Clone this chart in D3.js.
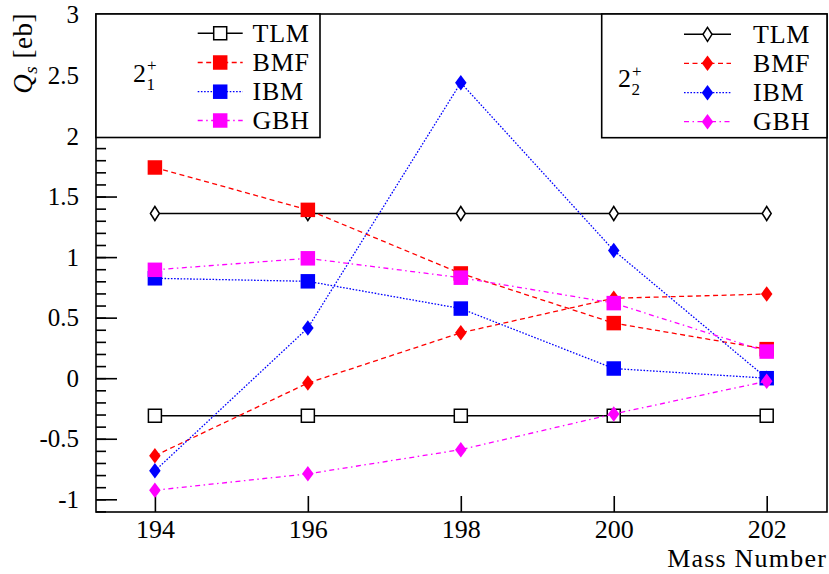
<!DOCTYPE html>
<html>
<head>
<meta charset="utf-8">
<script src="https://cdn.jsdelivr.net/npm/d3@7"></script>
<style>
  body { margin: 0; background: #fff; }
  svg { display: block; }
  .serif { font-family: 'Liberation Serif', 'Times New Roman', serif; }
</style>
</head>
<body>
<svg id="chart" width="829" height="574"></svg>
<script>
// Mass numbers of the isotopes on the x axis
const massNumbers = [194, 196, 198, 200, 202];
const xTickValues = [194, 196, 198, 200, 202];
const yTickValues = [-1, -0.5, 0, 0.5, 1, 1.5, 2, 2.5, 3];
const seriesNames = ["TLM", "BMF", "IBM", "GBH"];

// Spectroscopic quadrupole moments Q_s [eb], first 2+ state
const tlmFirst = [-0.31, -0.31, -0.31, -0.31, -0.31];
const bmfFirst = [1.74, 1.39, 0.865, 0.455, 0.24];
const ibmFirst = [0.825, 0.80, 0.575, 0.08, 0.0];
const gbhFirst = [0.895, 0.99, 0.83, 0.62, 0.22];

// Spectroscopic quadrupole moments Q_s [eb], second 2+ state
const tlmSecond = [1.36, 1.36, 1.36, 1.36, 1.36];
const bmfSecond = [-0.64, -0.04, 0.375, 0.66, 0.695];
const ibmSecond = [-0.765, 0.415, 2.44, 1.055, 0.0];
const gbhSecond = [-0.925, -0.79, -0.59, -0.295, -0.025];

const seriesColors = ["#000000", "#ff0000", "#0000ff", "#ff00ff"];
const seriesDashes = [null, "5,3.5", "1.6,1.6", "5,3.5,1.5,3.5"];

const svg = d3.select("#chart");

// Plot frame
const frame = { left: 96, right: 827, top: 14, bottom: 512 };

const x = d3.scaleLinear().domain([194, 202]).range([154.9, 766.7]);
const y = d3.scaleLinear().domain([-1, 3]).range([499.3, 14.9]);

// Axes: ticks point inward, as in a ROOT-style frame
const yMinor = d3.range(-11, 31).map(d => d / 10);
svg.append("g")
  .attr("transform", `translate(${frame.left},0)`)
  .call(d3.axisLeft(y).tickValues(yMinor).tickSizeInner(-10).tickSizeOuter(0).tickFormat(""))
  .call(g => g.select(".domain").remove())
  .call(g => g.selectAll("line").attr("stroke", "#000").attr("stroke-width", 1.6));

svg.append("g")
  .attr("transform", `translate(${frame.left},0)`)
  .call(d3.axisLeft(y).tickValues(yTickValues).tickSizeInner(-21).tickSizeOuter(0).tickPadding(17)
    .tickFormat(d => String(d)))
  .attr("font-family", null).attr("font-size", 25)
  .call(g => g.select(".domain").remove())
  .call(g => g.selectAll("line").attr("stroke", "#000").attr("stroke-width", 1.6))
  .call(g => g.selectAll("text").attr("class", "serif").attr("fill", "#000"));

svg.append("g")
  .attr("transform", `translate(0,${frame.bottom})`)
  .call(d3.axisBottom(x).tickValues(xTickValues).tickSizeInner(-16).tickSizeOuter(0).tickPadding(8)
    .tickFormat(d => String(d)))
  .attr("font-family", null).attr("font-size", 26)
  .call(g => g.select(".domain").remove())
  .call(g => g.selectAll("line").attr("stroke", "#000").attr("stroke-width", 1.6))
  .call(g => g.selectAll("text").attr("class", "serif").attr("fill", "#000"));

svg.append("rect")
  .attr("x", frame.left).attr("y", frame.top)
  .attr("width", frame.right - frame.left).attr("height", frame.bottom - frame.top)
  .attr("fill", "none").attr("stroke", "#000").attr("stroke-width", 1.6);

// Axis titles
svg.append("text")
  .attr("class", "serif")
  .attr("x", 827).attr("y", 567)
  .attr("text-anchor", "end").attr("font-size", 26).attr("letter-spacing", 1.2)
  .text("Mass Number");

const yTitle = svg.append("text")
  .attr("class", "serif")
  .attr("transform", "translate(32,13) rotate(-90)")
  .attr("text-anchor", "end").attr("font-size", 27).attr("letter-spacing", 0.5);
yTitle.append("tspan").attr("font-style", "italic").text("Q");
yTitle.append("tspan").attr("font-style", "italic").attr("font-size", 19).attr("dy", 5).text("s");
yTitle.append("tspan").attr("dy", -5).text(" [eb]");

// Markers
const squarePath = (s) => `M${-s/2},${-s/2}h${s}v${s}h${-s}Z`;
const diamondPath = (w, h) => `M0,${-h/2}L${w/2},0L0,${h/2}L${-w/2},0Z`;

function markerAttrs(sel, kind, i) {
  const open = i === 0;
  sel.attr("d", kind === "square"
      ? (open ? squarePath(13) : squarePath(14.5))
      : (open ? diamondPath(9, 14) : diamondPath(11.5, 15.5)))
    .attr("fill", open ? "#fff" : seriesColors[i])
    .attr("stroke", open ? "#000" : "none")
    .attr("stroke-width", 1.5);
}

const line = d3.line().x((d, k) => x(massNumbers[k])).y(d => y(d));

function drawSeries(values, i, kind) {
  const g = svg.append("g");
  g.append("path")
    .attr("d", line(values))
    .attr("fill", "none")
    .attr("stroke", seriesColors[i])
    .attr("stroke-width", i === 0 ? 1.5 : 1.3)
    .attr("stroke-dasharray", seriesDashes[i]);
  g.selectAll("path.mk").data(values).join("path")
    .attr("class", "mk")
    .attr("transform", (d, k) => `translate(${x(massNumbers[k])},${y(d)})`)
    .call(markerAttrs, kind, i);
}

const firstState = [tlmFirst, bmfFirst, ibmFirst, gbhFirst];
const secondState = [tlmSecond, bmfSecond, ibmSecond, gbhSecond];
seriesNames.forEach((name, i) => {
  drawSeries(firstState[i], i, "square");
  drawSeries(secondState[i], i, "diamond");
});

// Legends
function drawLegend(box, kind, rows, lineX0, lineX1, textX, label) {
  const g = svg.append("g");
  g.append("rect")
    .attr("x", box.x0).attr("y", box.y0)
    .attr("width", box.x1 - box.x0).attr("height", box.y1 - box.y0)
    .attr("fill", "#fff").attr("stroke", "#000").attr("stroke-width", 1.6);
  seriesNames.forEach((name, i) => {
    const cy = rows[i];
    g.append("line")
      .attr("x1", lineX0).attr("x2", lineX1).attr("y1", cy).attr("y2", cy)
      .attr("stroke", seriesColors[i]).attr("stroke-width", i === 0 ? 1.5 : 1.3)
      .attr("stroke-dasharray", seriesDashes[i]);
    g.append("path")
      .attr("transform", `translate(${(lineX0 + lineX1) / 2},${cy})`)
      .call(markerAttrs, kind, i);
    g.append("text")
      .attr("class", "serif")
      .attr("x", textX).attr("y", cy + 8.5)
      .attr("font-size", 26).attr("letter-spacing", 0.8)
      .text(name);
  });
  // State label 2^+ with subscript index
  const t = g.append("text").attr("class", "serif").attr("x", label.x).attr("y", label.y).attr("font-size", 26);
  t.append("tspan").text("2");
  t.append("tspan").attr("font-size", 17).attr("dx", 1).attr("dy", -10.5).text("+");
  t.append("tspan").attr("font-size", 17).attr("dx", -10).attr("dy", 18.5).text(label.sub);
}

drawLegend({ x0: 96, y0: 14, x1: 320, y1: 137.5 }, "square",
  [33.3, 62.5, 91.7, 120.5], 197.7, 242.7, 252.5, { x: 133, y: 81.5, sub: "1" });
drawLegend({ x0: 601.7, y0: 14, x1: 827, y1: 137.7 }, "diamond",
  [34.3, 63.3, 92.7, 121.7], 684, 731, 753, { x: 618, y: 87.3, sub: "2" });
</script>
</body>
</html>
